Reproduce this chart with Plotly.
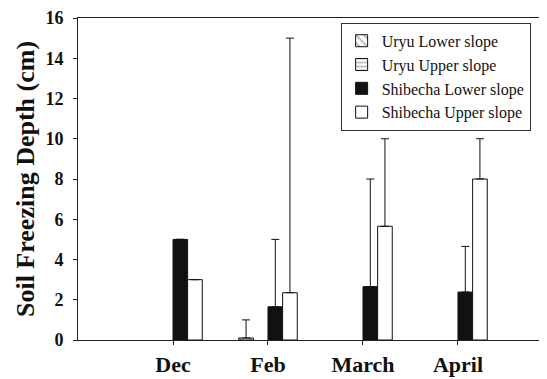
import plotly.graph_objects as go

months = ["Dec", "Feb", "March", "April"]
month_pos = [1, 2, 3, 4]

uryu_lower = [None, 0.1, None, None]
uryu_lower_err = [None, 0.9, None, None]
uryu_upper = [None, None, None, None]
uryu_upper_err = [None, None, None, None]
shibecha_lower = [5.0, 1.65, 2.65, 2.38]
shibecha_lower_err = [None, 3.35, 5.35, 2.27]
shibecha_upper = [3.0, 2.35, 5.65, 8.0]
shibecha_upper_err = [None, 12.65, 4.35, 2.0]

y_ticks = [0, 2, 4, 6, 8, 10, 12, 14, 16]

serif = "Liberation Serif"


def err(arr):
    return dict(type="data", array=arr, arrayminus=[0] * len(arr), symmetric=False,
                color="#111", thickness=1, width=4, visible=True)


fig = go.Figure()
fig.add_trace(go.Bar(
    name="Uryu Lower slope", x=month_pos, y=uryu_lower, error_y=err(uryu_lower_err),
    marker=dict(color="white", line=dict(color="#111", width=1),
                pattern=dict(shape="\\", fgcolor="#111", bgcolor="white", size=7, solidity=0.2)),
))
fig.add_trace(go.Bar(
    name="Uryu Upper slope", x=month_pos, y=uryu_upper, error_y=err(uryu_upper_err),
    marker=dict(color="white", line=dict(color="#111", width=1),
                pattern=dict(shape="-", fgcolor="#111", bgcolor="white", size=5, solidity=0.25)),
))
fig.add_trace(go.Bar(
    name="Shibecha Lower slope", x=month_pos, y=shibecha_lower, error_y=err(shibecha_lower_err),
    marker=dict(color="#111", line=dict(color="#111", width=1)),
))
fig.add_trace(go.Bar(
    name="Shibecha Upper slope", x=month_pos, y=shibecha_upper, error_y=err(shibecha_upper_err),
    marker=dict(color="white", line=dict(color="#111", width=1)),
))

fig.update_layout(
    width=539, height=371,
    margin=dict(l=70, r=0, t=10, b=39, autoexpand=False),
    paper_bgcolor="white", plot_bgcolor="white",
    barmode="group", bargap=0.384, bargroupgap=0,
    font=dict(family=serif, color="#111"),
    showlegend=True,
    legend=dict(
        x=0.56, y=0.985, xanchor="left", yanchor="top",
        bgcolor="white", bordercolor="#333", borderwidth=1,
        font=dict(family=serif, size=16, color="#111"),
        tracegroupgap=0, itemwidth=30,
    ),
    xaxis=dict(
        range=[0, 4.937], tickmode="array", tickvals=month_pos, ticktext=months,
        showline=True, linecolor="#222", linewidth=1, mirror=True,
        ticks="outside", ticklen=4, tickcolor="#222",
        showgrid=False, zeroline=False, automargin=False,
        tickfont=dict(family=serif, size=22, color="#111", weight="bold"),
        ticklabelstandoff=1, ticklabeloverflow="allow",
    ),
    yaxis=dict(
        range=[0, 16], tickmode="array", tickvals=y_ticks,
        showline=True, linecolor="#222", linewidth=1,
        ticks="outside", ticklen=4, tickcolor="#222",
        showgrid=False, zeroline=False, automargin=False,
        tickfont=dict(family=serif, size=18, color="#111", weight="bold"),
        ticklabelstandoff=6, ticklabeloverflow="allow",
        title=dict(text="<b>Soil Freezing Depth (cm)</b>",
                   font=dict(family=serif, size=26, color="#111"), standoff=3),
    ),
)

fig.write_html("out.html")
